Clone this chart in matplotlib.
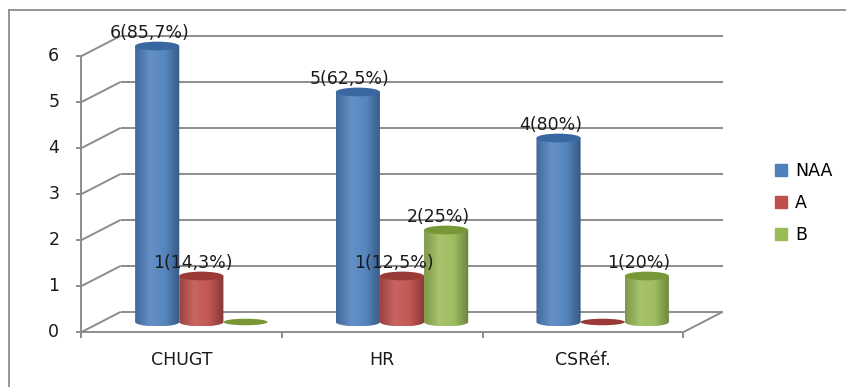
import matplotlib.pyplot as plt
import numpy as np
from matplotlib.colors import LinearSegmentedColormap, to_rgb
from matplotlib.lines import Line2D
from matplotlib.patches import Ellipse, Patch, Polygon

categories = ["CHUGT", "HR", "CSRéf."]
series = ["NAA", "A", "B"]
naa = [6, 5, 4]
a = [1, 1, 0]
b = [0, 2, 1]
naa_labels = ["6(85,7%)", "5(62,5%)", "4(80%)"]
a_labels = ["1(14,3%)", "1(12,5%)", ""]
b_labels = ["", "2(25%)", "1(20%)"]
yticks = [0, 1, 2, 3, 4, 5, 6]

base_colors = ["#4f81bd", "#c0504d", "#9bbb59"]
top_colors = ["#3a67a2", "#9a3a37", "#789838"]

GRID = "#8c8c8c"
TEXT = "#1a1a1a"
FS = 12.5
# depth offsets (data units) of the front and back planes from the bar plane
DX, DY = 0.098, 0.22
BAR_W = 0.22
ELL_H = 0.19


def shade(color, f):
    c = np.array(to_rgb(color))
    if f >= 1:
        return tuple(c + (1 - c) * (f - 1))
    return tuple(c * f)


def cylinder(ax, x, h, color, top, z):
    x0, x1 = x - BAR_W / 2, x + BAR_W / 2
    if h <= 0:
        ax.add_patch(Ellipse((x, 0), BAR_W, ELL_H * 0.75, color=top, zorder=z, lw=0))
        return
    cmap = LinearSegmentedColormap.from_list(
        "cyl", [shade(color, 0.82), shade(color, 1.12), shade(color, 1.04), shade(color, 0.7)]
    )
    t = np.linspace(np.pi, 2 * np.pi, 40)
    outline = [(x + BAR_W / 2 * np.cos(s), ELL_H / 2 * np.sin(s)) for s in t]
    outline += [(x1, h), (x0, h)]
    clip = Polygon(outline, closed=True, transform=ax.transData, fc="none", ec="none")
    ax.add_patch(clip)
    grad = np.linspace(0, 1, 64).reshape(1, -1)
    im = ax.imshow(grad, cmap=cmap, extent=(x0, x1, -ELL_H / 2, h), aspect="auto",
                   zorder=z, interpolation="bilinear")
    im.set_clip_path(clip)
    ax.add_patch(Ellipse((x, h), BAR_W, ELL_H, color=top, zorder=z + 0.1, lw=0))


fig = plt.figure(figsize=(8.46, 3.87), dpi=100)
# bar plane: 0 at y=322 px, 46 px per unit, y range -1 .. 6.5
ax = fig.add_axes([101 / 846, 19 / 387, 602 / 846, 345 / 387])
ax.axis("off")

# outer chart border (top and left only)
fig.add_artist(Line2D([9 / 846, 1], [1 - 10 / 387] * 2, transform=fig.transFigure, color=GRID, lw=1.3))
fig.add_artist(Line2D([9 / 846] * 2, [0, 1 - 10 / 387], transform=fig.transFigure, color=GRID, lw=1.3))

xl, xr = -0.5, len(categories) - 0.5
line_kw = dict(color=GRID, lw=1.4, clip_on=False, zorder=1, solid_capstyle="butt")
txt_kw = dict(textcoords="offset pixels", fontsize=FS, color=TEXT, annotation_clip=False)

for v in yticks:
    # back wall grid line and left wall diagonal
    ax.plot([xl + DX, xr + DX], [v + DY, v + DY], **line_kw)
    ax.plot([xl - DX, xl + DX], [v - DY, v + DY], **line_kw)
    # front axis tick and label
    ax.plot([xl - DX - 0.025, xl - DX], [v - DY, v - DY], **line_kw)
    ax.annotate(str(v), (xl - DX, v - DY), xytext=(-22, 0), ha="right", va="center", **txt_kw)

# front axis and floor outline
ax.plot([xl - DX, xl - DX], [-DY, yticks[-1] - DY], **line_kw)
ax.plot([xl - DX, xr - DX], [-DY, -DY], **line_kw)
ax.plot([xr - DX, xr + DX], [-DY, DY], **line_kw)
for i in range(len(categories) + 1):
    ax.plot([xl + i - DX] * 2, [-DY, -DY - 0.12], **line_kw)

for i, cat in enumerate(categories):
    ax.annotate(cat, (i - DX, -DY), xytext=(0, -28), ha="center", va="center", **txt_kw)

values = [naa, a, b]
labels = [naa_labels, a_labels, b_labels]
for s in range(len(series)):
    for i in range(len(categories)):
        x = i + (s - 1) * BAR_W
        h = values[s][i]
        cylinder(ax, x, h, base_colors[s], top_colors[s], 3 + s)
        if labels[s][i]:
            ax.annotate(labels[s][i], (x, h), xytext=(-8, 13), ha="center", va="center",
                        zorder=10, **txt_kw)

ax.set_xlim(xl, xr)
ax.set_ylim(-1, 6.5)

handles = [Patch(color=c) for c in base_colors]
fig.legend(handles, series, loc="center left", bbox_to_anchor=(775 / 846, 1 - 203 / 387),
           frameon=False, fontsize=FS, handlelength=0.7, handleheight=0.7,
           handletextpad=0.45, labelspacing=0.8, borderpad=0, borderaxespad=0)

fig.savefig("out.png", dpi=100)
